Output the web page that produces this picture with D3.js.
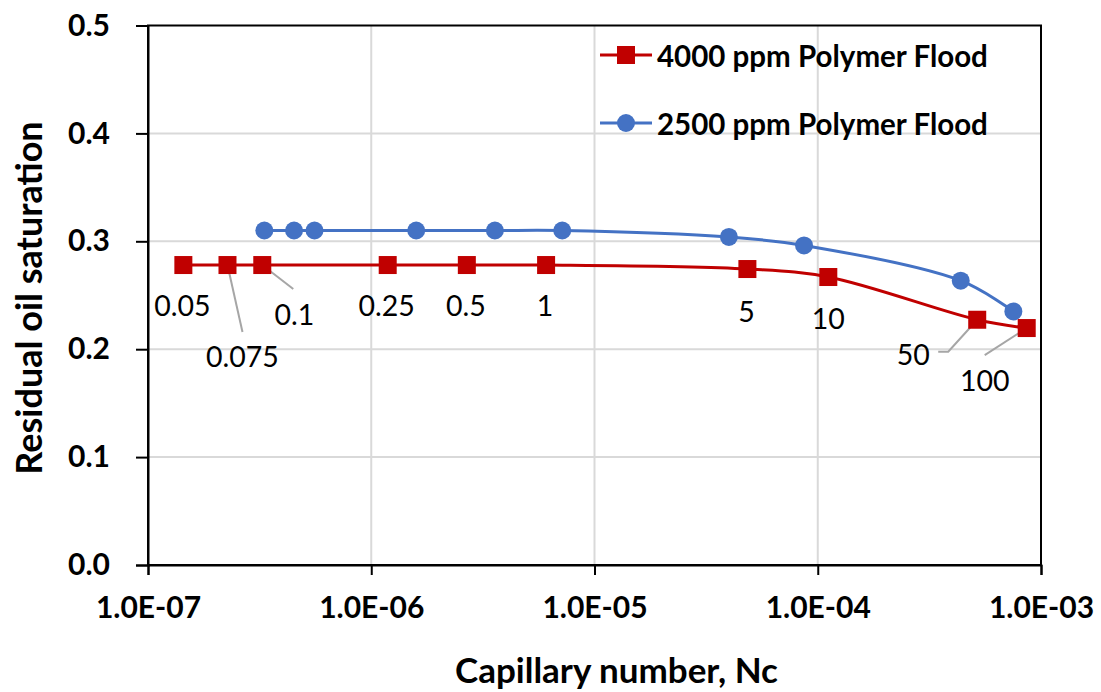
<!DOCTYPE html>
<html>
<head>
<meta charset="utf-8">
<script src="https://cdn.jsdelivr.net/npm/d3@7"></script>
<style>
  html, body { margin: 0; padding: 0; background: #fff; }
  svg { display: block; }
  text { font-family: Lato, "Open Sans", sans-serif; fill: #000; }
</style>
</head>
<body>
<svg id="chart" width="1101" height="692"></svg>
<script>
// Capillary number and residual oil saturation, 4000 ppm polymer flood
const nc4000 = [1.44e-7, 2.27e-7, 3.25e-7, 1.185e-6, 2.68e-6, 6.07e-6, 4.84e-5, 1.115e-4, 5.18e-4, 8.63e-4];
const sor4000 = [0.278, 0.278, 0.278, 0.278, 0.278, 0.278, 0.2743, 0.2669, 0.2273, 0.2196];
// Flow-rate labels attached to the 4000 ppm points
const rateLabels = ["0.05", "0.075", "0.1", "0.25", "0.5", "1", "5", "10", "50", "100"];

// Capillary number and residual oil saturation, 2500 ppm polymer flood
const nc2500 = [3.32e-7, 4.51e-7, 5.57e-7, 1.59e-6, 3.58e-6, 7.17e-6, 4.0e-5, 8.68e-5, 4.37e-4, 7.52e-4];
const sor2500 = [0.310, 0.310, 0.310, 0.310, 0.310, 0.310, 0.304, 0.2962, 0.2635, 0.235];

const seriesNames = ["4000 ppm Polymer Flood", "2500 ppm Polymer Flood"];
const xTicks = [1e-7, 1e-6, 1e-5, 1e-4, 1e-3];
const yTicks = [0, 0.1, 0.2, 0.3, 0.4, 0.5];

const RED = "#C00000", BLUE = "#4472C4";

const svg = d3.select("#chart");
const plot = { left: 148, right: 1041, top: 25.5, bottom: 565 };

const x = d3.scaleLog().domain([1e-7, 1e-3]).range([plot.left, plot.right]);
const y = d3.scaleLinear().domain([0, 0.5]).range([plot.bottom, plot.top]);

// scientific labels in the "1.0E-07" style
const sciFormat = d => {
  const e = Math.round(Math.log10(d));
  return "1.0E" + (e < 0 ? "-" : "+") + String(Math.abs(e)).padStart(2, "0");
};

// gridlines
const grid = svg.append("g").attr("stroke", "#d9d9d9").attr("stroke-width", 2);
grid.selectAll("line.h").data(yTicks.slice(1, -1)).join("line")
  .attr("x1", plot.left).attr("x2", plot.right)
  .attr("y1", d => y(d)).attr("y2", d => y(d));
grid.selectAll("line.v").data(xTicks.slice(1, -1)).join("line")
  .attr("y1", plot.top).attr("y2", plot.bottom)
  .attr("x1", d => x(d)).attr("x2", d => x(d));

// plot-area border
svg.append("rect")
  .attr("x", plot.left).attr("y", plot.top)
  .attr("width", plot.right - plot.left).attr("height", plot.bottom - plot.top)
  .attr("fill", "none").attr("stroke", "#000").attr("stroke-width", 2);

// axes
const xAxis = svg.append("g")
  .attr("transform", `translate(0,${plot.bottom})`)
  .call(d3.axisBottom(x).tickValues(xTicks).tickSize(10).tickPadding(22).tickFormat(sciFormat));
xAxis.select(".domain").attr("stroke", "#000").attr("stroke-width", 2);
xAxis.selectAll(".tick line").attr("stroke", "#000").attr("stroke-width", 2);
xAxis.selectAll(".tick text")
  .attr("font-family", "Lato").attr("font-weight", "bold").attr("font-size", 30).attr("fill", "#000");

const yAxis = svg.append("g")
  .attr("transform", `translate(${plot.left},0)`)
  .call(d3.axisLeft(y).tickValues(yTicks).tickSize(12).tickPadding(26).tickFormat(d3.format(".1f")));
yAxis.select(".domain").attr("stroke", "#000").attr("stroke-width", 2);
yAxis.selectAll(".tick line").attr("stroke", "#000").attr("stroke-width", 2);
yAxis.selectAll(".tick text")
  .attr("font-family", "Lato").attr("font-weight", "bold").attr("font-size", 30).attr("fill", "#000");

// axis titles
svg.append("text")
  .attr("x", (plot.left + plot.right) / 2 + 22).attr("y", 683)
  .attr("text-anchor", "middle").attr("font-weight", "bold").attr("font-size", 35)
  .text("Capillary number, Nc");
svg.append("text")
  .attr("transform", `translate(42,298) rotate(-90)`)
  .attr("text-anchor", "middle").attr("font-weight", "bold").attr("font-size", 36)
  .text("Residual oil saturation");

// series
const line = d3.line().x(d => x(d[0])).y(d => y(d[1])).curve(d3.curveCatmullRom.alpha(0.5));
const pts4000 = nc4000.map((v, i) => [v, sor4000[i]]);
const pts2500 = nc2500.map((v, i) => [v, sor2500[i]]);

// leader lines for the crowded labels
const leaders = [
  { i: 1, to: [[15, 67]] },
  { i: 2, to: [[31, 24]] },
  { i: 8, to: [[-29, 32], [-39, 32]] },
  { i: 9, to: [[-42, 27]] }
];
const lead = svg.append("g").attr("stroke", "#a6a6a6").attr("stroke-width", 2).attr("fill", "none");
leaders.forEach(l => {
  const px = x(nc4000[l.i]), py = y(sor4000[l.i]);
  lead.append("path").attr("d", d3.line()([[px, py], ...l.to.map(o => [px + o[0], py + o[1]])]));
});

svg.append("path").datum(pts2500).attr("d", line)
  .attr("fill", "none").attr("stroke", BLUE).attr("stroke-width", 3);
svg.append("path").datum(pts4000).attr("d", line)
  .attr("fill", "none").attr("stroke", RED).attr("stroke-width", 3);

svg.append("g").selectAll("circle").data(pts2500).join("circle")
  .attr("cx", d => x(d[0])).attr("cy", d => y(d[1])).attr("r", 9).attr("fill", BLUE);
svg.append("g").selectAll("rect").data(pts4000).join("rect")
  .attr("x", d => x(d[0]) - 9).attr("y", d => y(d[1]) - 9)
  .attr("width", 18).attr("height", 18).attr("fill", RED);

// data labels (offset of text centre from its point)
const labelOffsets = [[-1, 40], [15, 91], [32, 49], [-1, 40], [-1, 40], [-1, 40], [-1, 42], [0, 41], [-64, 34], [-42, 52]];
svg.append("g").selectAll("text").data(rateLabels).join("text")
  .attr("x", (d, i) => x(nc4000[i]) + labelOffsets[i][0])
  .attr("y", (d, i) => y(sor4000[i]) + labelOffsets[i][1])
  .attr("text-anchor", "middle").attr("dominant-baseline", "central")
  .attr("font-size", 28.5)
  .text(d => d);

// legend
const legend = svg.append("g");
const legendRows = [{ name: seriesNames[0], color: RED, shape: "square", y: 55 },
                    { name: seriesNames[1], color: BLUE, shape: "circle", y: 123 }];
legendRows.forEach(r => {
  legend.append("line").attr("x1", 600).attr("x2", 652).attr("y1", r.y).attr("y2", r.y)
    .attr("stroke", r.color).attr("stroke-width", 3);
  if (r.shape === "square") {
    legend.append("rect").attr("x", 626 - 9).attr("y", r.y - 9).attr("width", 18).attr("height", 18).attr("fill", r.color);
  } else {
    legend.append("circle").attr("cx", 626).attr("cy", r.y).attr("r", 9).attr("fill", r.color);
  }
  legend.append("text").attr("x", 657).attr("y", r.y).attr("dominant-baseline", "central")
    .attr("font-weight", "bold").attr("font-size", 29.5).text(r.name);
});
</script>
</body>
</html>
